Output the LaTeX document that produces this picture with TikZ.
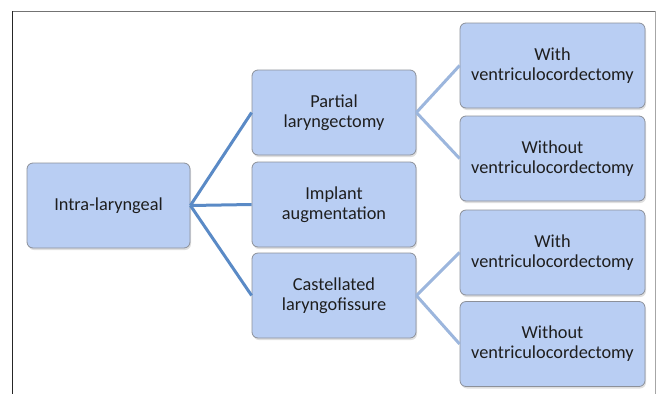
\documentclass[tikz,border=0pt]{standalone}
\usepackage{fontspec}
\setmainfont{Carlito}
\usetikzlibrary{shadows}

\definecolor{boxfill}{HTML}{B9CEF3}
\definecolor{boxline}{HTML}{8C9099}
\definecolor{linkdark}{HTML}{5A8AC6}
\definecolor{linklight}{HTML}{9CB6DD}
\definecolor{txt}{HTML}{1E1E1E}

\tikzset{
  caja/.style={draw=boxline, fill=boxfill, rounded corners=6pt, line width=0.8pt,
    text=txt, align=center, font=\fontsize{18.3}{20}\selectfont,
    drop shadow={shadow xshift=1pt, shadow yshift=-2pt, opacity=0.25},
    inner sep=0pt},
  cajaA/.style={caja, minimum width=163pt, minimum height=85pt},
  cajaB/.style={caja, minimum width=185pt, minimum height=85pt},
  enlace1/.style={draw=linkdark, line width=3pt},
  enlace2/.style={draw=linklight, line width=3pt}
}

\begin{document}
\begin{tikzpicture}[x=1pt, y=-1pt]
    \useasboundingbox (0,0) rectangle (660,394);

    % \marco
    \draw[color=black!55, line width=1pt] (12,11) -- (655,11);
    \draw[color=black!85, line width=1pt] (12,11) -- (12,394);
    \draw[color=black!35, line width=1pt] (655,11) -- (655,394);

    % \cajas
    \node[cajaA] (intra) at (108.5,205.5) {Intra-laryngeal};

    \node[cajaA, minimum width=164pt] (parcial) at (334,112.5) {Partial\\laryngectomy};
    \node[cajaA, minimum width=164pt] (implante) at (334,204.5) {Implant\\augmentation};
    \node[cajaA, minimum width=164pt] (castel) at (334,295.5) {Castellated\\laryngofissure};

    \node[cajaB] (con1) at (552.5,65.5) {With\\ventriculocordectomy};
    \node[cajaB] (sin1) at (552.5,158.5) {Without\\ventriculocordectomy};
    \node[cajaB] (con2) at (552.5,252.5) {With\\ventriculocordectomy};
    \node[cajaB] (sin2) at (552.5,344) {Without\\ventriculocordectomy};

    % \enlaces
    \draw[enlace1] (intra.east) -- (parcial.west);
    \draw[enlace1] (intra.east) -- (implante.west);
    \draw[enlace1] (intra.east) -- (castel.west);

    \draw[enlace2] (parcial.east) -- (con1.west);
    \draw[enlace2] (parcial.east) -- (sin1.west);
    \draw[enlace2] (castel.east) -- (con2.west);
    \draw[enlace2] (castel.east) -- (sin2.west);

\end{tikzpicture}
\end{document}
